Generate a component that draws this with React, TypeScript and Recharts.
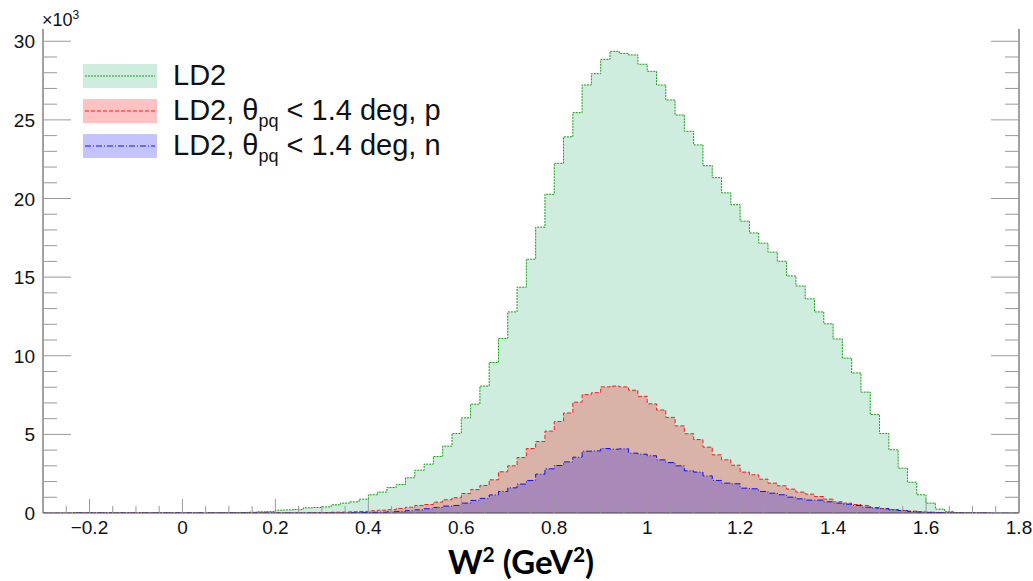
import { AreaChart, Area, XAxis, YAxis, Legend } from "recharts";

// histogram binning (GeV^2), values are counts / 1000
const xMin = -0.3;
const xMax = 1.8;
const binWidth = 0.02;
const firstListedBin = 0.1; // bins below this are empty
const yTop = 30.78;

// LD2, bins 0.10 .. 1.68
const ld2 = [
  0.02, 0.03, 0.05, 0.08, 0.1, 0.18, 0.2, 0.22, 0.33, 0.35,
  0.39, 0.52, 0.63, 0.71, 0.88, 1.16, 1.33, 1.62, 1.81, 2.24,
  2.72, 3.11, 3.59, 4.25, 5.06, 6.05, 6.92, 8.07, 9.57, 11.1,
  12.79, 14.36, 16.14, 18.18, 20.27, 22.24, 23.92, 25.46, 27.22, 27.94,
  28.85, 29.36, 29.23, 29.13, 28.54, 28.09, 27.22, 26.27, 25.31, 24.28,
  23.41, 22.09, 21.33, 20.36, 19.61, 18.56, 17.81, 17.16, 16.59, 16.01,
  15.08, 14.44, 13.62, 12.79, 12.03, 11.07, 9.85, 8.91, 7.69, 6.26,
  5.06, 4.02, 2.85, 1.96, 1.16, 0.63, 0.25, 0.1, 0.03, 0,
];

// LD2, theta_pq < 1.4 deg, p
const ld2p = [
  0, 0, 0, 0, 0, 0, 0, 0, 0, 0.02,
  0.03, 0.05, 0.06, 0.08, 0.1, 0.14, 0.18, 0.21, 0.29, 0.37,
  0.48, 0.54, 0.69, 0.84, 0.97, 1.24, 1.49, 1.75, 2.11, 2.62,
  3.0, 3.53, 4.1, 4.55, 5.21, 5.82, 6.36, 7.05, 7.53, 7.65,
  8.02, 8.07, 8.02, 7.81, 7.42, 6.94, 6.55, 6.08, 5.54, 5.04,
  4.67, 4.19, 3.7, 3.38, 3.04, 2.6, 2.43, 2.15, 1.9, 1.73,
  1.52, 1.33, 1.2, 1.05, 0.88, 0.71, 0.63, 0.54, 0.48, 0.35,
  0.29, 0.22, 0.16, 0.12, 0.08, 0.05, 0.03, 0.02, 0, 0,
];

// LD2, theta_pq < 1.4 deg, n
const ld2n = [
  0, 0, 0, 0, 0, 0, 0, 0, 0, 0,
  0, 0, 0, 0.02, 0.03, 0.04, 0.05, 0.08, 0.1, 0.15,
  0.2, 0.27, 0.35, 0.44, 0.48, 0.63, 0.8, 0.93, 1.15, 1.37,
  1.6, 1.84, 2.07, 2.47, 2.81, 3.02, 3.25, 3.55, 3.93, 3.95,
  4.1, 4.06, 4.08, 3.81, 3.74, 3.64, 3.38, 3.21, 3.0, 2.68,
  2.6, 2.36, 2.07, 1.9, 1.86, 1.58, 1.54, 1.37, 1.26, 1.16,
  1.01, 0.9, 0.82, 0.82, 0.71, 0.63, 0.56, 0.48, 0.37, 0.31,
  0.27, 0.2, 0.16, 0.1, 0.06, 0.04, 0.02, 0, 0, 0,
];

const xMajor = [-0.2, 0, 0.2, 0.4, 0.6, 0.8, 1, 1.2, 1.4, 1.6, 1.8];
const yMajor = [0, 5, 10, 15, 20, 25, 30];
const xMinorStep = 0.05;
const yMinorStep = 1;

const series = [
  { key: "ld2", name: "LD2", sub: "", tail: "", stroke: "#12a012", fill: "rgb(0,160,80)", op: 0.19, dash: "2 1" },
  { key: "p", name: "LD2, θ", sub: "pq", tail: " < 1.4 deg, p", stroke: "#ff1a1a", fill: "rgb(255,0,0)", op: 0.243, dash: "4 2" },
  { key: "n", name: "LD2, θ", sub: "pq", tail: " < 1.4 deg, n", stroke: "#1010ff", fill: "rgb(10,0,240)", op: 0.235, dash: "6 2 1 2" },
];

const r2 = (v: number) => Math.round(v * 1000) / 1000;

const nBins = Math.round((xMax - xMin) / binWidth);
const skip = Math.round((firstListedBin - xMin) / binWidth);
const rows = Array.from({ length: nBins + 1 }, (_, k) => {
  const i = Math.min(k, nBins - 1) - skip;
  return {
    x: r2(xMin + k * binWidth),
    ld2: ld2[i] ?? 0,
    p: ld2p[i] ?? 0,
    n: ld2n[i] ?? 0,
  };
});

const xTicks = Array.from(
  { length: Math.round((xMax - xMin) / xMinorStep) },
  (_, j) => r2(xMin + (j + 1) * xMinorStep),
);
const yTicks = Array.from({ length: Math.floor(yTop / yMinorStep) + 1 }, (_, j) => j * yMinorStep);

const isMajor = (arr: number[], v: number) => arr.some((m) => Math.abs(m - v) < 1e-6);
const fmtX = (v: number) => String(Number(v.toFixed(1))).replace("-", "\u2212");

const TICK = "#9a9a9a";
const FONT = "'Liberation Sans', Arial, Helvetica, sans-serif";

const BottomTick = (p: any) => {
  const v = p.payload.value;
  const major = isMajor(xMajor, v);
  return (
    <g>
      <line x1={p.x} x2={p.x} y1={p.y} y2={p.y - (major ? 14 : 7)} stroke={TICK} />
      {major && (
        <text x={p.x} y={p.y + 21} textAnchor="middle" fontSize={19} fontFamily={FONT} fill="#111">
          {fmtX(v)}
        </text>
      )}
    </g>
  );
};

const TopTick = (p: any) => {
  const major = isMajor(xMajor, p.payload.value);
  return <line x1={p.x} x2={p.x} y1={p.y} y2={p.y + (major ? 12 : 6)} stroke={TICK} />;
};

const LeftTick = (p: any) => {
  const v = p.payload.value;
  const major = isMajor(yMajor, v);
  return (
    <g>
      <line x1={p.x} x2={p.x + (major ? 28 : 14)} y1={p.y} y2={p.y} stroke={TICK} />
      {major && (
        <text x={p.x - 8} y={p.y + 7} textAnchor="end" fontSize={19} fontFamily={FONT} fill="#111">
          {v}
        </text>
      )}
    </g>
  );
};

const RightTick = (p: any) => {
  const major = isMajor(yMajor, p.payload.value);
  return <line x1={p.x} x2={p.x - (major ? 28 : 14)} y1={p.y} y2={p.y} stroke={TICK} />;
};

const renderLegend = () => (
  <div style={{ fontFamily: FONT }}>
    {series.map((s) => (
      <div key={s.key} style={{ display: "flex", alignItems: "center", height: 35 }}>
        <svg width={74} height={24} style={{ marginRight: 16 }}>
          <rect x={0} y={0} width={74} height={24} fill={s.fill} fillOpacity={s.op} />
          <line x1={2} x2={72} y1={12} y2={12} stroke={s.stroke} strokeDasharray={s.dash} />
        </svg>
        <span style={{ fontSize: 29, color: "#111", whiteSpace: "nowrap", lineHeight: "35px" }}>
          {s.name}
          {s.sub && <sub style={{ fontSize: 18, lineHeight: 0 }}>{s.sub}</sub>}
          {s.tail}
        </span>
      </div>
    ))}
  </div>
);

export default function App() {
  return (
    <div style={{ position: "absolute", left: 0, top: 0, width: 1033, height: 581, background: "#fff" }}>
      <AreaChart width={1033} height={581} data={rows} margin={{ top: 29, right: 13, bottom: 28, left: 3 }}>
        <Area
          type="stepAfter" dataKey="ld2" stroke={series[0].stroke} strokeDasharray={series[0].dash}
          fill={series[0].fill} fillOpacity={series[0].op} dot={false} activeDot={false} isAnimationActive={false}
        />
        <Area
          type="stepAfter" dataKey="p" stroke={series[1].stroke} strokeDasharray={series[1].dash}
          fill={series[1].fill} fillOpacity={series[1].op} dot={false} activeDot={false} isAnimationActive={false}
        />
        <Area
          type="stepAfter" dataKey="n" stroke={series[2].stroke} strokeDasharray={series[2].dash}
          fill={series[2].fill} fillOpacity={series[2].op} dot={false} activeDot={false} isAnimationActive={false}
        />
        <XAxis
          dataKey="x" type="number" domain={[xMin, xMax]} allowDataOverflow ticks={xTicks} interval={0}
          tickSize={0} tickMargin={0} tickLine={false} tick={<BottomTick />} height={40}
          axisLine={{ stroke: "#444" }}
        />
        <XAxis
          xAxisId="top" orientation="top" dataKey="x" type="number" domain={[xMin, xMax]} allowDataOverflow
          ticks={xTicks} interval={0} tickSize={0} tickMargin={0} tickLine={false} tick={<TopTick />} height={0}
          axisLine={{ stroke: "#444" }}
        />
        <YAxis
          type="number" domain={[0, yTop]} allowDataOverflow ticks={yTicks} interval={0}
          tickSize={0} tickMargin={0} tickLine={false} tick={<LeftTick />} width={40}
          axisLine={{ stroke: "#444" }}
        />
        <YAxis
          yAxisId="right" orientation="right" type="number" domain={[0, yTop]} allowDataOverflow ticks={yTicks}
          interval={0} tickSize={0} tickMargin={0} tickLine={false} tick={<RightTick />} width={1}
          axisLine={{ stroke: "#444" }}
        />
        <Legend
          layout="vertical" align="center" verticalAlign="middle" content={renderLegend}
          wrapperStyle={{ left: 83, top: 58, width: "auto" }}
        />
      </AreaChart>
      <div style={{ position: "absolute", left: 42, top: 2, fontFamily: FONT, fontSize: 18, color: "#111", lineHeight: "26px" }}>
        ×10<sup style={{ fontSize: 12 }}>3</sup>
      </div>
      <div
        style={{
          position: "absolute", left: 321, width: 400, top: 543, textAlign: "center", lineHeight: "36px",
          fontFamily: "Lato, 'Open Sans', sans-serif", fontWeight: 700, fontSize: 33, color: "#000",
        }}
      >
        W<sup style={{ fontSize: 21, lineHeight: 0 }}>2</sup> (GeV<sup style={{ fontSize: 21, lineHeight: 0 }}>2</sup>)
      </div>
    </div>
  );
}
